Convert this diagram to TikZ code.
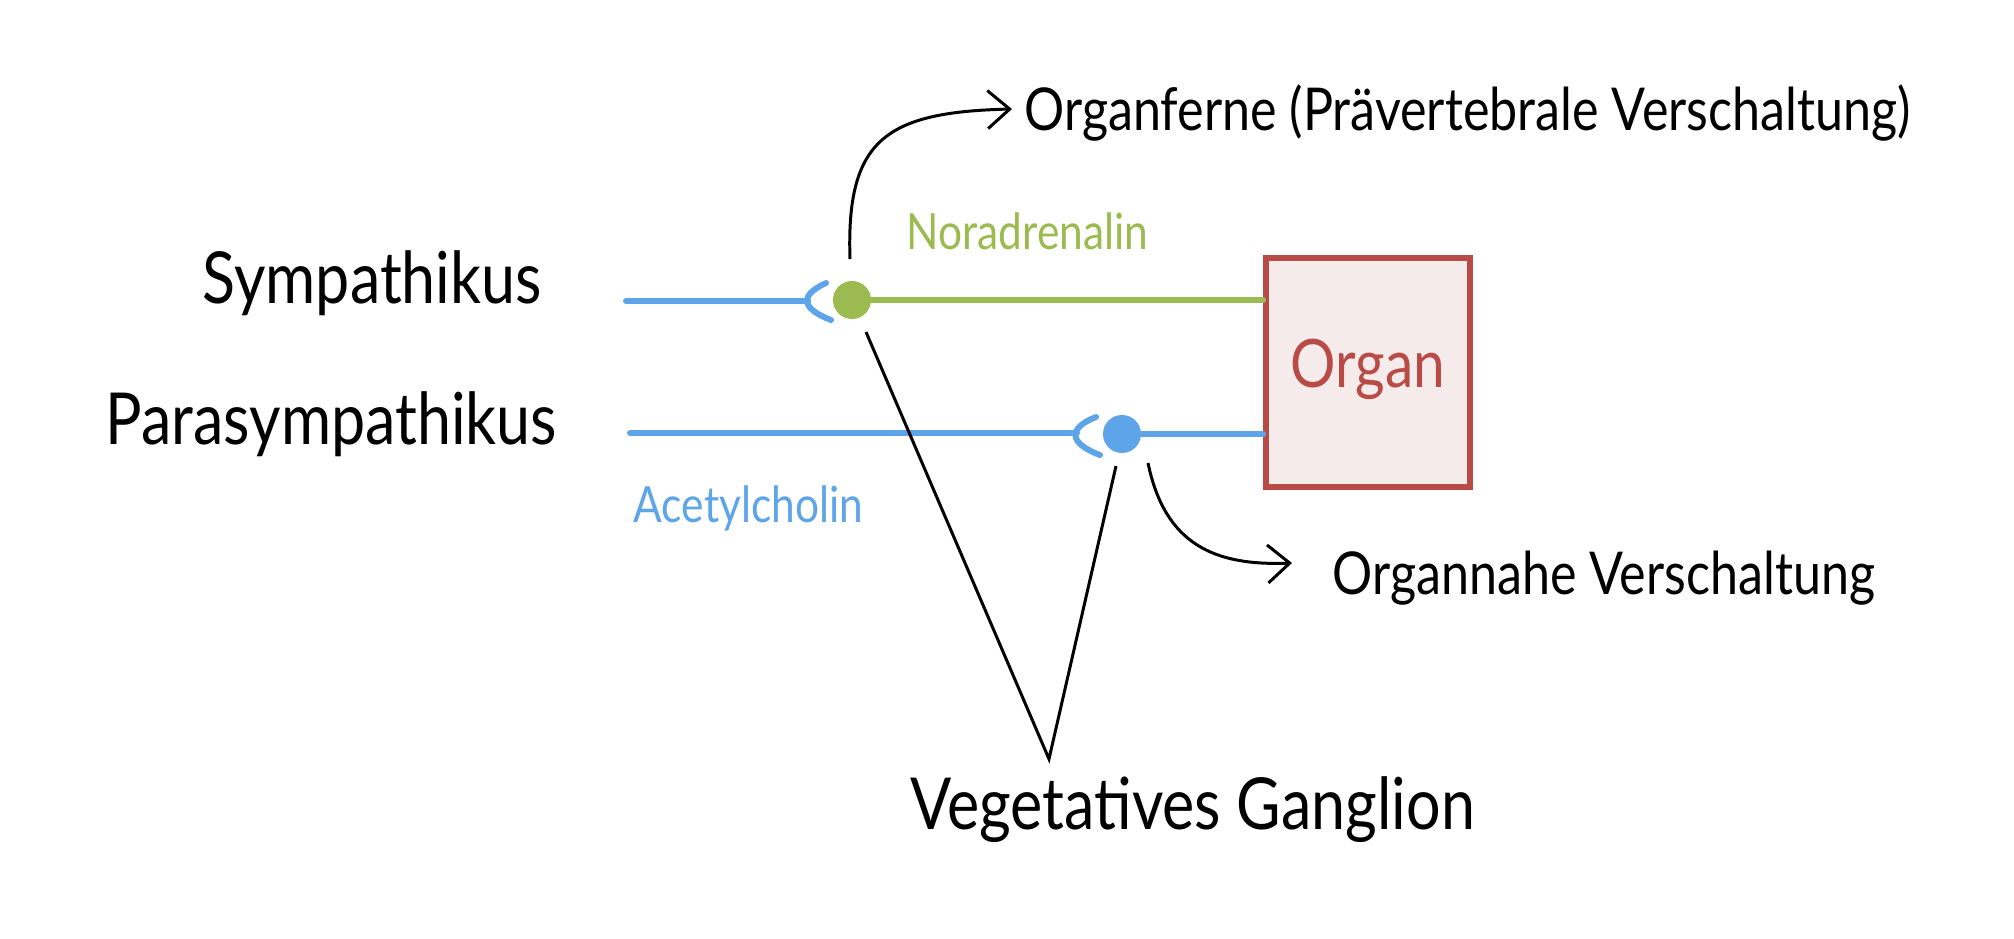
\documentclass[tikz,border=0pt]{standalone}
\usepackage{fontspec}
\setmainfont{Lato}[FakeStretch=0.85]
\usetikzlibrary{arrows.meta,positioning,calc}
\definecolor{nervblue}{HTML}{5DA5E8}
\definecolor{nervgreen}{HTML}{9BBB50}
\definecolor{organred}{HTML}{B94B47}
\definecolor{organfill}{HTML}{F5EBEA}

\begin{document}
\begin{tikzpicture}[
  x=0.01cm, y=-0.01cm,
  axon/.style={line width=1.7pt, line cap=round, nervblue},
  nerve/.style={line width=0.85pt},
  dot/.style={circle, inner sep=0pt, minimum size=0.38cm},
  organbox/.style={rectangle, draw=organred, fill=organfill, line width=1.6pt,
    minimum width=2.04cm, minimum height=2.29cm, text=organred,
    font=\fontsize{19}{22}\selectfont},
  pointer/.style={-{Straight Barb[length=2.2mm, width=3.8mm]}, line width=0.85pt},
  labelbig/.style={inner sep=0pt, anchor=base west, font=\fontsize{20.4}{24}\selectfont},
  labelmid/.style={inner sep=0pt, anchor=base west, font=\fontsize{16.8}{20}\selectfont},
  labelsmall/.style={inner sep=0pt, anchor=base west, font=\fontsize{14.2}{17}\selectfont},
]
  \useasboundingbox (0,0) rectangle (2014,939);

  % Organ
  \node[organbox] (organ) at (1368,372.5) {\raisebox{0.18cm}{Organ}};

  % Synapses
  \node[dot, fill=nervgreen] (symdot) at (852,300) {};
  \node[dot, fill=nervblue] (paradot) at (1122,434) {};
  \coordinate (symstart) at (626,301);
  \coordinate (symcup) at (808,301);
  \coordinate (parastart) at (630,433);
  \coordinate (paracup) at (1077,433);

  \draw[axon] (symstart) -- (symcup);
  \draw[axon] ($(symcup)+(18,-18)$) .. controls ($(symcup)+(-8,-6)$) and ($(symcup)+(-8,7)$) .. ($(symcup)+(23,19)$);
  \draw[axon] (parastart) -- (paracup);
  \draw[axon] ($(paracup)+(19,-16)$) .. controls ($(paracup)+(-9,-5)$) and ($(paracup)+(-9,10)$) .. ($(paracup)+(23,22)$);

  \draw[axon, nervgreen] (symdot) -- (symdot -| organ.west);
  \draw[axon] (paradot) -- (paradot -| organ.west);

  % Ganglion
  \coordinate (vtip) at (1049,759);
  \draw[nerve] ($(symdot)+(14,32)$) -- (vtip) -- ($(paradot)+(-6,32)$);

  % Arrows
  \coordinate (ferntip) at (1012,109);
  \coordinate (nahtip) at (1292,563);
  \draw[pointer] ($(symdot)+(-2,-41)$) .. controls (846,140) and (885,112) .. (ferntip);
  \draw[pointer] ($(paradot)+(26,29)$) .. controls (1165,545) and (1215,566) .. (nahtip);

  % Labels
  \node[labelbig] (sym) at (202,303) {Sympathikus};
  \node[labelbig] (para) at (105,444) {Parasympathikus};
  \node[labelsmall, text=nervgreen] (nora) at (906,249) {Noradrenalin};
  \node[labelsmall, text=nervblue] (acetyl) at (633,522) {Acetylcholin};
  \node[labelmid] (fern) at (1024,130) {Organferne (Prävertebrale Verschaltung)};
  \node[labelmid] (nah) at (1332,594) {Organnahe Verschaltung};
  \node[labelbig] (ganglion) at (910,829) {Vegetatives Ganglion};
\end{tikzpicture}
\end{document}
